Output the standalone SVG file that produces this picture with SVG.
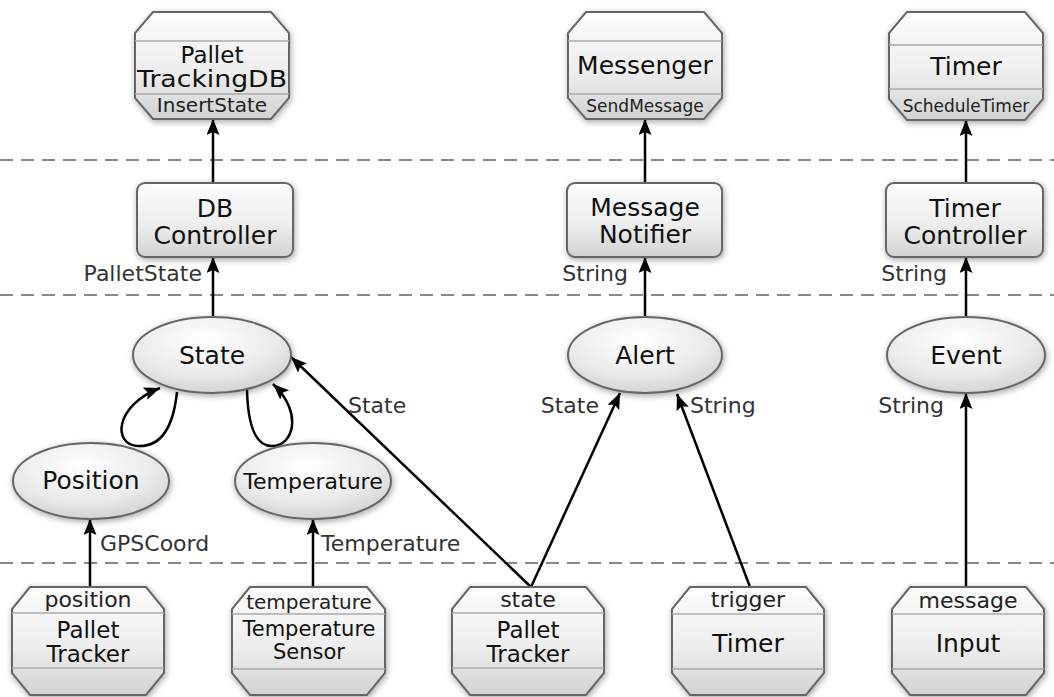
<svg xmlns="http://www.w3.org/2000/svg" width="1054" height="697" viewBox="0 0 1054 697">
<defs>
<linearGradient id="g" x1="0" y1="0" x2="0" y2="1">
<stop offset="0" stop-color="#fcfcfc"/><stop offset="0.55" stop-color="#eeeeee"/><stop offset="1" stop-color="#d2d2d2"/>
</linearGradient>
<radialGradient id="re" cx="0.45" cy="0.3" r="0.75">
<stop offset="0" stop-color="#ffffff"/><stop offset="0.6" stop-color="#ebebeb"/><stop offset="1" stop-color="#cfcfcf"/>
</radialGradient>
<filter id="sh" x="-20%" y="-20%" width="140%" height="140%">
<feDropShadow dx="1" dy="2" stdDeviation="3" flood-color="#000" flood-opacity="0.35"/>
</filter>
<marker id="ah" markerUnits="userSpaceOnUse" markerWidth="18" markerHeight="14" refX="16" refY="6.5" orient="auto">
<path d="M0,0 L16,6.5 L0,13 L3,6.5 Z" fill="#000"/>
</marker>
</defs>
<style>
.oct{fill:url(#g);stroke:#666;stroke-width:2;filter:url(#sh)}
.box{fill:url(#g);stroke:#666;stroke-width:2;filter:url(#sh)}
.ell{fill:url(#re);stroke:#666;stroke-width:2;filter:url(#sh)}
.sep{stroke:#aaa;stroke-width:1.5}
.dash{stroke:#888;stroke-width:2;stroke-dasharray:13 8;fill:none}
.e{stroke:#000;stroke-width:2.5;fill:none;marker-end:url(#ah)}
text{font-family:"DejaVu Sans","Verdana",sans-serif;text-anchor:middle;fill:#111}
.n{font-size:25px}
.n2{font-size:23px}
.p{font-size:22px;fill:#222}
.l{font-size:22px;fill:#333}
.le{text-anchor:end}
.ls{text-anchor:start}
</style>
<line class="dash" x1="0" y1="160" x2="1054" y2="160"/>
<line class="dash" x1="0" y1="295" x2="1054" y2="295"/>
<line class="dash" x1="0" y1="563" x2="1054" y2="563"/>

<g id="connectors">
<line class="e" x1="213" y1="183" x2="213" y2="119"/>
<line class="e" x1="645" y1="183" x2="645" y2="119"/>
<line class="e" x1="966" y1="183" x2="966" y2="120"/>
<line class="e" x1="213" y1="317" x2="213" y2="257"/>
<line class="e" x1="645" y1="317" x2="645" y2="257"/>
<line class="e" x1="966" y1="317" x2="966" y2="257"/>
<path class="e" d="M177,392 C173,430 160,447 138,446 C112,445 115,405 160,388"/>
<path class="e" d="M247,390 C248,430 258,446 272,446 C294,446 303,412 273,384"/>
<line class="e" x1="90" y1="587" x2="90" y2="519"/>
<line class="e" x1="313" y1="587" x2="313" y2="519"/>
<line class="e" x1="531" y1="587" x2="291" y2="357"/>
<line class="e" x1="531" y1="587" x2="620" y2="393"/>
<line class="e" x1="750" y1="587" x2="677" y2="394"/>
<line class="e" x1="966" y1="587" x2="966" y2="393"/>
<text class="l le" x="202" y="281">PalletState</text>
<text class="l le" x="628" y="281">String</text>
<text class="l le" x="947" y="281">String</text>
<text class="l ls" x="348" y="413">State</text>
<text class="l le" x="599" y="413">State</text>
<text class="l ls" x="690" y="413">String</text>
<text class="l le" x="944" y="413">String</text>
<text class="l ls" x="100" y="551">GPSCoord</text>
<text class="l ls" x="321" y="551">Temperature</text>
</g>

<g id="n_palletdb">
<polygon class="oct" points="153,12 271,12 289,33 289,98 271,119 153,119 135,98 135,33"/>
<line class="sep" x1="135" y1="41" x2="289" y2="41"/>
<line class="sep" x1="135" y1="94" x2="289" y2="94"/>
<text class="n2" x="212" y="63">Pallet</text>
<text class="n2" x="212" y="87" textLength="150" lengthAdjust="spacingAndGlyphs">TrackingDB</text>
<text class="p" x="212" y="112" style="font-size:20px">InsertState</text>
</g>
<g id="n_messenger">
<polygon class="oct" points="586,12 704,12 722,33 722,98 704,119 586,119 568,98 568,33"/>
<line class="sep" x1="568" y1="41" x2="722" y2="41"/>
<line class="sep" x1="568" y1="94" x2="722" y2="94"/>
<text class="n" x="645" y="74">Messenger</text>
<text class="p" x="645" y="112" style="font-size:17px">SendMessage</text>
</g>
<g id="n_timer_top">
<polygon class="oct" points="907,12 1025,12 1043,33 1043,99 1025,120 907,120 889,99 889,33"/>
<line class="sep" x1="889" y1="45" x2="1043" y2="45"/>
<line class="sep" x1="889" y1="89" x2="1043" y2="89"/>
<text class="n" x="966" y="75">Timer</text>
<text class="p" x="966" y="112" style="font-size:17px">ScheduleTimer</text>
</g>

<g id="n_dbcontroller">
<rect class="box" x="137" y="183" width="156" height="74" rx="8"/>
<text class="n" x="215" y="217">DB</text>
<text class="n" x="215" y="244">Controller</text>
</g>
<g id="n_messagenotifier">
<rect class="box" x="567" y="183" width="155" height="74" rx="8"/>
<text class="n" x="645" y="216">Message</text>
<text class="n" x="645" y="243">Notifier</text>
</g>
<g id="n_timercontroller">
<rect class="box" x="886" y="183" width="157" height="74" rx="8"/>
<text class="n" x="965" y="217">Timer</text>
<text class="n" x="965" y="244">Controller</text>
</g>

<g id="n_state">
<ellipse class="ell" cx="212" cy="355" rx="79" ry="38"/>
<text class="n" x="212" y="364">State</text>
</g>
<g id="n_alert">
<ellipse class="ell" cx="645" cy="355" rx="77" ry="38"/>
<text class="n" x="645" y="364">Alert</text>
</g>
<g id="n_event">
<ellipse class="ell" cx="966" cy="355" rx="79" ry="38"/>
<text class="n" x="966" y="364">Event</text>
</g>
<g id="n_position">
<ellipse class="ell" cx="91" cy="481" rx="78" ry="38"/>
<text class="n" x="91" y="489">Position</text>
</g>
<g id="n_temperature">
<ellipse class="ell" cx="313" cy="481" rx="78" ry="38"/>
<text class="n" x="313" y="489" style="font-size:22px">Temperature</text>
</g>

<g id="n_tracker_pos">
<polygon class="oct" points="30,587 146,587 164,609 164,673 146,695 30,695 12,673 12,609"/>
<line class="sep" x1="12" y1="613" x2="164" y2="613"/>
<line class="sep" x1="12" y1="668" x2="164" y2="668"/>
<text class="p" x="88" y="607">position</text>
<text class="n2" x="88" y="638">Pallet</text>
<text class="n2" x="88" y="662">Tracker</text>
</g>
<g id="n_tempsensor">
<polygon class="oct" points="250,587 367,587 385,609 385,673 367,695 250,695 232,673 232,609"/>
<line class="sep" x1="232" y1="614" x2="385" y2="614"/>
<line class="sep" x1="232" y1="669" x2="385" y2="669"/>
<text class="p" x="309" y="609" style="font-size:20px">temperature</text>
<text class="n" x="309" y="636" style="font-size:21px">Temperature</text>
<text class="n" x="309" y="659" style="font-size:21px">Sensor</text>
</g>
<g id="n_tracker_state">
<polygon class="oct" points="470,587 586,587 604,609 604,673 586,695 470,695 452,673 452,609"/>
<line class="sep" x1="452" y1="613" x2="604" y2="613"/>
<line class="sep" x1="452" y1="668" x2="604" y2="668"/>
<text class="p" x="528" y="607">state</text>
<text class="n2" x="528" y="638">Pallet</text>
<text class="n2" x="528" y="662">Tracker</text>
</g>
<g id="n_timer_bottom">
<polygon class="oct" points="690,587 806,587 824,609 824,673 806,695 690,695 672,673 672,609"/>
<line class="sep" x1="672" y1="614" x2="824" y2="614"/>
<line class="sep" x1="672" y1="669" x2="824" y2="669"/>
<text class="p" x="748" y="607">trigger</text>
<text class="n" x="748" y="652">Timer</text>
</g>
<g id="n_input">
<polygon class="oct" points="910,587 1026,587 1044,609 1044,673 1026,695 910,695 892,673 892,609"/>
<line class="sep" x1="892" y1="614" x2="1044" y2="614"/>
<line class="sep" x1="892" y1="669" x2="1044" y2="669"/>
<text class="p" x="968" y="608">message</text>
<text class="n" x="968" y="652">Input</text>
</g>
</svg>
